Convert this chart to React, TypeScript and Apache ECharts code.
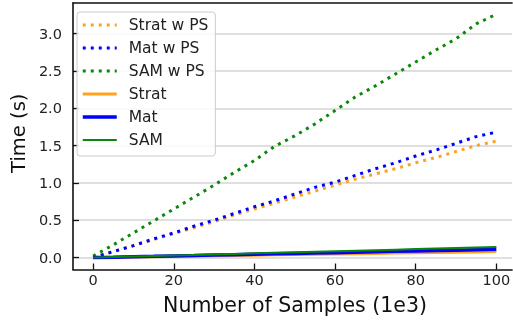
import React, { useEffect, useRef } from 'react';
import * as echarts from 'echarts';

const samples = [0, 5, 10, 15, 20, 25, 30, 35, 40, 45, 50, 55, 60, 65, 70, 75, 80, 85, 90, 95, 100];
const stratPS = [0.0, 0.08, 0.16, 0.24, 0.32, 0.40, 0.48, 0.57, 0.65, 0.73, 0.81, 0.89, 0.97, 1.05, 1.12, 1.19, 1.27, 1.34, 1.42, 1.50, 1.56];
const matPS = [0.0, 0.08, 0.16, 0.25, 0.33, 0.42, 0.50, 0.59, 0.68, 0.76, 0.85, 0.94, 1.01, 1.10, 1.19, 1.27, 1.36, 1.44, 1.53, 1.62, 1.68];
const samPS = [0.02, 0.17, 0.33, 0.49, 0.65, 0.81, 0.97, 1.14, 1.30, 1.49, 1.63, 1.79, 1.97, 2.15, 2.30, 2.46, 2.62, 2.78, 2.93, 3.13, 3.26];
const strat = [0.0, 0.004, 0.008, 0.012, 0.016, 0.02, 0.024, 0.028, 0.032, 0.036, 0.04, 0.044, 0.048, 0.052, 0.056, 0.06, 0.064, 0.068, 0.072, 0.076, 0.08];
const mat = [0.0, 0.005, 0.011, 0.016, 0.022, 0.027, 0.033, 0.038, 0.044, 0.05, 0.055, 0.06, 0.066, 0.071, 0.077, 0.083, 0.088, 0.094, 0.099, 0.105, 0.11];
const sam = [0.0, 0.007, 0.014, 0.021, 0.028, 0.035, 0.042, 0.049, 0.057, 0.064, 0.071, 0.078, 0.085, 0.092, 0.099, 0.106, 0.113, 0.12, 0.127, 0.134, 0.141];

const names = ['Strat w PS', 'Mat w PS', 'SAM w PS', 'Strat', 'Mat', 'SAM'];
const xTicks = [0, 20, 40, 60, 80, 100];
const yTicks = [0, 0.5, 1.0, 1.5, 2.0, 2.5, 3.0];

const ORANGE = '#ffa21f';
const BLUE = '#0000ff';
const GREEN = '#0b870b';
const FONT = 'DejaVu Sans';
const DOT = [3, 5];
const widths = [3, 3, 3, 3, 3.5, 2];
const X_MIN = -5;
const X_MAX = 103.9;

function pairs(vals: number[]) {
  return samples.map((x, i) => [x, vals[i]]);
}

export default function App() {
  const ref = useRef<HTMLDivElement>(null);
  useEffect(() => {
    if (!ref.current) return;
    const chart = echarts.init(ref.current, null, { renderer: 'svg' });
    const mk = (name: string, vals: number[], color: string, width: number, type: any) => ({
      name,
      type: 'line',
      data: pairs(vals),
      symbol: 'none',
      showSymbol: false,
      silent: true,
      color,
      lineStyle: { color, width, type, cap: 'butt' },
      xAxisIndex: 0,
      yAxisIndex: 0,
    });
    chart.setOption({
      animation: false,
      textStyle: { fontFamily: FONT },
      grid: { left: 68, right: 0, top: 3, bottom: 55.5, containLabel: false },
      legend: {
        left: 77,
        top: 12,
        orient: 'vertical',
        itemWidth: 34,
        itemHeight: 14,
        itemGap: 7,
        padding: [5, 7, 8, 4],
        backgroundColor: 'rgba(255,255,255,0.85)',
        borderColor: '#cccccc',
        borderWidth: 1,
        borderRadius: 3,
        selectedMode: false,
        itemStyle: { color: 'rgba(0,0,0,0)', borderWidth: 0, opacity: 0 },
        textStyle: { fontFamily: FONT, fontSize: 15.5, color: '#222', padding: [0, 0, 0, 7], lineHeight: 14, height: 14 },
        data: names.map((n, i) => ({ name: n, lineStyle: { width: widths[i] } })),
      },
      xAxis: [
        {
          type: 'value',
          min: X_MIN,
          max: X_MAX,
          name: 'Number of Samples (1e3)',
          nameLocation: 'middle',
          nameGap: 25,
          nameTextStyle: { fontFamily: FONT, fontSize: 20.5, color: '#111', padding: [0, 0, 0, 5] },
          axisLine: { show: true, onZero: false, lineStyle: { color: '#111', width: 1.6 } },
          axisTick: { show: true, inside: true, length: 6, customValues: xTicks, lineStyle: { color: '#111', width: 1.3 } },
          axisLabel: { customValues: xTicks, margin: 3, fontFamily: FONT, fontSize: 14.5, color: '#222' },
          splitLine: { show: false },
        },
        {
          type: 'value',
          position: 'top',
          min: X_MIN,
          max: X_MAX,
          axisLine: { show: true, onZero: false, lineStyle: { color: '#111', width: 1.6 } },
          axisTick: { show: false },
          axisLabel: { show: false },
          splitLine: { show: false },
        },
      ],
      yAxis: {
        type: 'value',
        min: -0.16,
        max: 3.41,
        name: 'Time (s)',
        nameLocation: 'middle',
        nameGap: 38,
        nameTextStyle: { fontFamily: FONT, fontSize: 19.5, color: '#111', padding: [0, 0, 0, 6] },
        axisLine: { show: true, onZero: false, lineStyle: { color: '#111', width: 1.6 } },
        axisTick: { show: true, inside: true, length: 6, customValues: yTicks, lineStyle: { color: '#111', width: 1.3 } },
        axisLabel: {
          customValues: yTicks,
          margin: 11,
          fontFamily: FONT,
          fontSize: 14.5,
          color: '#222',
          formatter: (v: number) => v.toFixed(1),
        },
        splitLine: { show: true, lineStyle: { color: '#d4d4d4', width: 1.5 } },
      },
      series: [
        mk(names[0], stratPS, ORANGE, widths[0], DOT),
        mk(names[1], matPS, BLUE, widths[1], DOT),
        mk(names[2], samPS, GREEN, widths[2], DOT),
        mk(names[3], strat, ORANGE, widths[3], 'solid'),
        mk(names[4], mat, BLUE, widths[4], 'solid'),
        mk(names[5], sam, GREEN, widths[5], 'solid'),
      ],
    });
    return () => chart.dispose();
  }, []);
  return <div ref={ref} style={{ position: 'fixed', left: 0, top: 0, width: 513, height: 325 }} />;
}
